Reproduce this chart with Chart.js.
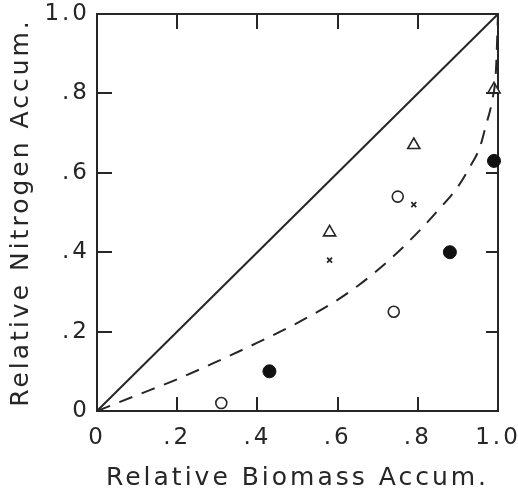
<!DOCTYPE html>
<html>
<head>
<meta charset="utf-8">
<script src="https://cdn.jsdelivr.net/npm/chart.js@4/dist/chart.umd.min.js"></script>
<style>
  html, body { margin: 0; padding: 0; background: #ffffff; }
  canvas { display: block; }
</style>
</head>
<body>
<canvas id="c" width="518" height="491"></canvas>
<script>
// ---- data ----
const tickValues = [0, 0.2, 0.4, 0.6, 0.8, 1.0];
const tickLabels = ['0', '.2', '.4', '.6', '.8', '1.0'];
const xTitle = 'Relative Biomass Accum.';
const yTitle = 'Relative Nitrogen Accum.';

const openCircles   = [[0.31, 0.02], [0.74, 0.25], [0.75, 0.54]];
const filledCircles = [[0.43, 0.10], [0.88, 0.40], [0.99, 0.63]];
const triangles     = [[0.58, 0.45], [0.79, 0.67], [0.99, 0.81]];
const crosses       = [[0.58, 0.38], [0.79, 0.52]];

const oneToOneLine = [[0, 0], [1, 1]];
const dashedCurve = [
  [0, 0], [0.10, 0.04], [0.20, 0.08], [0.30, 0.125], [0.40, 0.172],
  [0.50, 0.222], [0.60, 0.28], [0.65, 0.315], [0.70, 0.355], [0.75, 0.40],
  [0.80, 0.45], [0.85, 0.505], [0.90, 0.565], [0.93, 0.615], [0.955, 0.665],
  [0.97, 0.72], [0.985, 0.78], [0.995, 0.86], [1.0, 1.0]
];

const toXY = arr => arr.map(p => ({x: p[0], y: p[1]}));
const INK = '#262626';
const FONT = "'DejaVu Sans', sans-serif";

const spacing = {
  id: 'spacing',
  beforeLayout(chart) { chart.ctx.letterSpacing = '3px'; },
  beforeDraw(chart) { chart.ctx.letterSpacing = '3px'; }
};

// inward tick marks on all four sides; the plot box and tick positions
// all come from the chart's own x and y scales
const innerTicks = {
  id: 'innerTicks',
  afterDraw(chart) {
    const ctx = chart.ctx;
    const xs = chart.scales.x, ys = chart.scales.y;
    const L = Math.round(xs.getPixelForValue(xs.min));
    const R = Math.round(xs.getPixelForValue(xs.max));
    const B = Math.round(ys.getPixelForValue(ys.min));
    const T = Math.round(ys.getPixelForValue(ys.max));
    ctx.save();
    ctx.fillStyle = INK;
    tickValues.forEach(v => {
      const px = Math.round(xs.getPixelForValue(v));
      const py = Math.round(ys.getPixelForValue(v));
      ctx.fillRect(px - 1, B - 14, 2, 14);
      ctx.fillRect(px - 1, T, 2, 15);
      ctx.fillRect(L, py - 1, 15, 2);
      ctx.fillRect(R - 12, py - 1, 12, 2);
    });
    ctx.restore();
  }
};

function setTicks(scale) {
  scale.ticks = tickValues.map(v => ({value: v}));
}
function fixSize(prop, size) {
  return s => {
    s[prop] = size;
    s.paddingLeft = 0; s.paddingRight = 0; s.paddingTop = 0; s.paddingBottom = 0;
  };
}

const noGrid = {display: false, drawTicks: false, drawOnChartArea: false};
const baseBorder = {display: true, color: INK, width: 2};

new Chart(document.getElementById('c'), {
  type: 'scatter',
  data: {
    datasets: [
      { data: toXY(oneToOneLine), showLine: true, borderColor: INK, borderWidth: 2,
        pointRadius: 0, fill: false },
      { data: toXY(dashedCurve), showLine: true, borderColor: INK, borderWidth: 2,
        borderDash: [14, 10], pointRadius: 0, fill: false, cubicInterpolationMode: 'monotone' },
      { data: toXY(openCircles), pointStyle: 'circle', pointRadius: 5.5, borderColor: INK,
        backgroundColor: '#ffffff', pointBorderWidth: 1.6, clip: false },
      { data: toXY(filledCircles), pointStyle: 'circle', pointRadius: 6.5, borderColor: '#111',
        backgroundColor: '#111', pointBorderWidth: 1, clip: false },
      { data: toXY(triangles), pointStyle: 'triangle', pointRadius: 7, borderColor: INK,
        backgroundColor: '#ffffff', pointBorderWidth: 1.6, clip: false },
      { data: toXY(crosses), pointStyle: 'crossRot', pointRadius: 3.5, borderColor: INK,
        backgroundColor: INK, pointBorderWidth: 1.8, clip: false }
    ]
  },
  options: {
    responsive: false,
    animation: false,
    devicePixelRatio: 1,
    layout: { padding: 0 },
    plugins: { legend: { display: false }, tooltip: { enabled: false } },
    scales: {
      x: {
        type: 'linear', position: 'bottom', min: 0, max: 1,
        afterBuildTicks: setTicks,
        afterFit: fixSize('height', 80),
        grid: noGrid, border: baseBorder,
        ticks: { color: INK, font: { family: FONT, size: 23 }, padding: 13, maxRotation: 0,
                 callback: (v, i) => tickLabels[i] },
        title: { display: true, text: xTitle, color: INK,
                 font: { family: FONT, size: 25, lineHeight: 1 }, padding: { top: 0, bottom: 0 } }
      },
      x2: {
        type: 'linear', position: 'top', min: 0, max: 1,
        afterBuildTicks: setTicks,
        afterFit: fixSize('height', 14),
        grid: noGrid, border: baseBorder,
        ticks: { display: false }
      },
      y: {
        type: 'linear', position: 'left', min: 0, max: 1,
        afterBuildTicks: setTicks,
        afterFit: fixSize('width', 97),
        grid: noGrid, border: baseBorder,
        ticks: { color: INK, font: { family: FONT, size: 23 }, padding: 7,
                 callback: (v, i) => tickLabels[i] },
        title: { display: true, text: yTitle, color: INK,
                 font: { family: FONT, size: 25, lineHeight: 1 }, padding: { top: 9, bottom: 0 } }
      },
      y2: {
        type: 'linear', position: 'right', min: 0, max: 1,
        afterBuildTicks: setTicks,
        afterFit: fixSize('width', 20),
        grid: noGrid, border: baseBorder,
        ticks: { display: false }
      }
    }
  },
  plugins: [spacing, innerTicks]
});
</script>
</body>
</html>
